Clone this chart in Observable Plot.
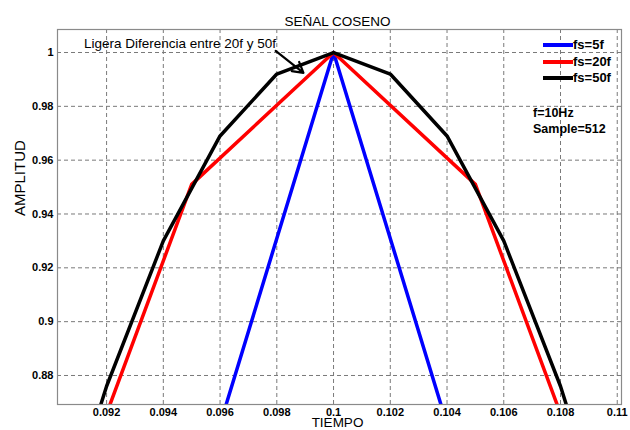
<!DOCTYPE html>
<html><head><meta charset="utf-8">
<script src="https://cdn.jsdelivr.net/npm/d3@7"></script>
<script src="https://cdn.jsdelivr.net/npm/@observablehq/plot@0.6"></script>
<style>
body{margin:0;background:#fff;font-family:"Liberation Sans",Arial,sans-serif;}
#wrap{position:relative;width:630px;height:430px;overflow:hidden;}
.lg{position:absolute;height:16px;line-height:16px;font-weight:bold;font-size:13px;color:#000;white-space:nowrap;}
.sw{position:absolute;width:30px;height:3.5px;}
.info{position:absolute;height:16px;line-height:16px;font-weight:bold;font-size:12.5px;white-space:nowrap;}
</style></head><body><div id="wrap"></div>
<script>
// Data
const seriesNames = ["fs=5f", "fs=20f", "fs=50f"];
const seriesColors = ["#0000ff", "#ff0000", "#000000"];
const t5  = [0.08, 0.1, 0.12];
const y5  = [0.309, 1, 0.309];
const t20 = [0.085, 0.09, 0.095, 0.1, 0.105, 0.11, 0.115];
const y20 = [0.588, 0.809, 0.951, 1, 0.951, 0.809, 0.588];
const t50 = [0.088, 0.09, 0.092, 0.094, 0.096, 0.098, 0.1, 0.102, 0.104, 0.106, 0.108, 0.11, 0.112];
const y50 = [0.729, 0.809, 0.876, 0.930, 0.969, 0.992, 1, 0.992, 0.969, 0.930, 0.876, 0.809, 0.729];
const xTicks = [0.092, 0.094, 0.096, 0.098, 0.1, 0.102, 0.104, 0.106, 0.108, 0.11];
const yTicks = [0.88, 0.9, 0.92, 0.94, 0.96, 0.98, 1];
const xDomain = [0.09027, 0.11015];
const yDomain = [0.86922, 1.00855];
const titleText = "SEÑAL COSENO";
const xLabel = "TIEMPO";
const yLabel = "AMPLITUD";
const noteText = ["Ligera Diferencia entre 20f y 50f"];
const noteX = [0.0912];
const noteY = [1.00335];
const arrowFrom = [0.09796, 1.0006];
const arrowTo = [0.09894, 0.99241];
const infoLines = ["f=10Hz", "Sample=512"];

const seriesT = [t5, t20, t50];
const seriesY = [y5, y20, y50];
const rows = [];
seriesNames.forEach((name, k) => seriesT[k].forEach((t, i) => rows.push({t, y: seriesY[k][i], name})));
const notes = noteText.map((text, i) => ({text, x: noteX[i], y: noteY[i]}));
const arrows = [{x1: arrowFrom[0], y1: arrowFrom[1], x2: arrowTo[0], y2: arrowTo[1]}];
const fmt = d => String(Math.round(d * 1000) / 1000);

const chart = Plot.plot({
  width: 630, height: 430,
  marginLeft: 57, marginRight: 9, marginTop: 29, marginBottom: 26,
  style: {fontFamily: '"Liberation Sans", Arial, sans-serif', background: "#fff", color: "#000"},
  x: {domain: xDomain, label: null},
  y: {domain: yDomain, label: null},
  color: {domain: seriesNames, range: seriesColors},
  marks: [
    Plot.gridX(xTicks, {stroke: "#7a7a7a", strokeOpacity: 1, strokeDasharray: "4,3"}),
    Plot.gridY(yTicks, {stroke: "#7a7a7a", strokeOpacity: 1, strokeDasharray: "4,3"}),
    Plot.line(rows, {x: "t", y: "y", z: "name", stroke: "name", strokeWidth: 3.5, clip: true}),
    Plot.frame({stroke: "#8a8a8a", strokeWidth: 1.2}),
    Plot.axisX(xTicks, {tickSize: 0, tickPadding: 4, tickFormat: fmt, fontWeight: "bold", fontSize: 11, label: null}),
    Plot.axisY(yTicks, {tickSize: 0, tickPadding: 4, tickFormat: fmt, fontWeight: "bold", fontSize: 11, label: null}),
    Plot.text([titleText], {frameAnchor: "top", dx: -2, dy: -13, text: d => d, fontSize: 13.5}),
    Plot.text([xLabel], {frameAnchor: "bottom", dx: -2, dy: 22, text: d => d, fontSize: 13.5}),
    Plot.text([yLabel], {frameAnchor: "left", dx: -37, dy: -1, rotate: -90, text: d => d, fontSize: 15}),
    Plot.text(notes, {x: "x", y: "y", text: "text", textAnchor: "start", fontSize: 13.5}),
    Plot.arrow(arrows, {x1: "x1", y1: "y1", x2: "x2", y2: "y2", stroke: "#000", strokeWidth: 2.2, headLength: 10})
  ]
});
const wrap = document.getElementById("wrap");
wrap.appendChild(chart);

// Legend overlay (inside top-right of the axes)
const legendTops = [36.7, 53.7, 69.7];
seriesNames.forEach((name, i) => {
  const sw = document.createElement("div");
  sw.className = "sw";
  sw.style.left = "542.7px";
  sw.style.top = (legendTops[i] + 6.3) + "px";
  sw.style.background = seriesColors[i];
  wrap.appendChild(sw);
  const tx = document.createElement("div");
  tx.className = "lg";
  tx.style.left = "573px";
  tx.style.top = legendTops[i] + "px";
  tx.textContent = name;
  wrap.appendChild(tx);
});
const infoTops = [105, 121];
infoLines.forEach((s, i) => {
  const d = document.createElement("div");
  d.className = "info";
  d.style.left = "533px";
  d.style.top = infoTops[i] + "px";
  d.textContent = s;
  wrap.appendChild(d);
});
</script>
</body></html>
